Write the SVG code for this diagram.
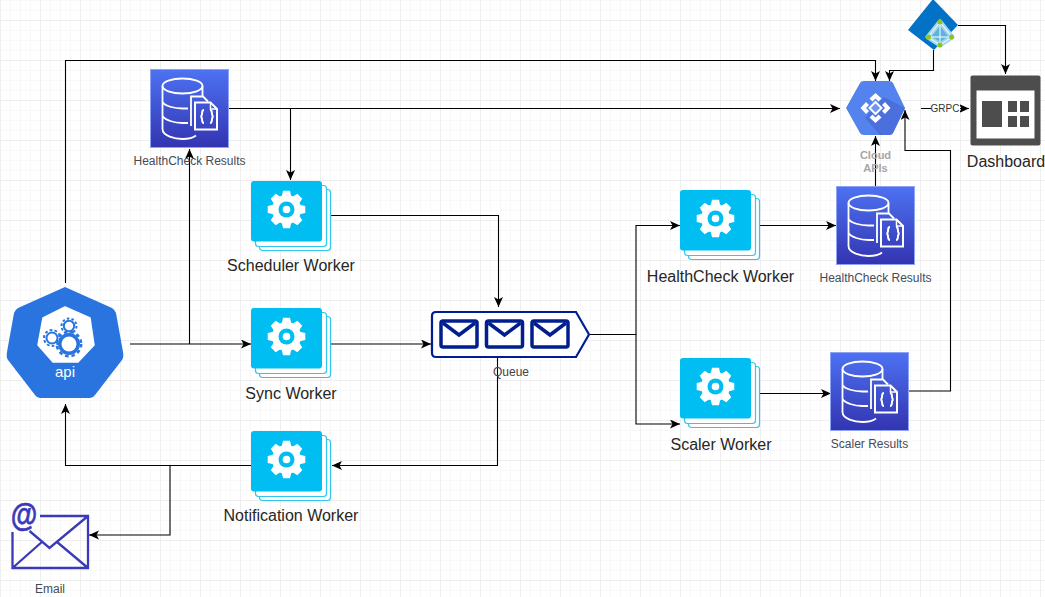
<svg xmlns="http://www.w3.org/2000/svg" width="1045" height="597" viewBox="0 0 1045 597">
<style>
.c{fill:none;stroke:#000;stroke-width:1.1}
.t{font-family:"Liberation Sans",Arial,sans-serif;text-anchor:middle}
.big{font-size:16px;fill:#262626}
.sm{font-size:12px;fill:#444b57}
.gb{fill:#fff;stroke:#2a74e0}
</style>
<defs>
<pattern id="g" width="40" height="40" patternUnits="userSpaceOnUse" patternTransform="translate(0 20)">
<path d="M0 10.500H40M0 20.500H40M0 30.500H40M10.500 0V40M20.500 0V40M30.500 0V40" stroke="#f8f8f8" stroke-width="1" fill="none"/>
<path d="M0 0.500H40M0.500 0V40" stroke="#eeeeee" stroke-width="1" fill="none"/>
</pattern>
<marker id="a" markerUnits="userSpaceOnUse" markerWidth="11" markerHeight="10" refX="10" refY="4.500" orient="auto"><path d="M0 0L10 4.500L0 9L2.500 4.500Z" fill="#000"/></marker>
<linearGradient id="db" x1="0" y1="0" x2="0" y2="1"><stop offset="0" stop-color="#4d72f3"/><stop offset="1" stop-color="#3334b0"/></linearGradient>
<symbol id="dbi" overflow="visible">
<rect x="0.500" y="0.500" width="78" height="78" fill="url(#db)" stroke="#8ea3f5"/>
<g fill="none" stroke="#fff" stroke-width="1.800">
<ellipse cx="32.500" cy="17" rx="20" ry="7.500"/>
<path d="M12.500 17V60C12.500 67 25 70 32.500 70C38 70 43 69 46 66.500M52.500 17V27M12.500 33C15 37 24 39.500 32.500 39.500H38M12.500 47C15 51 24 54 32.500 54H38"/>
<path d="M41 57V27.500H53L58 32.500"/>
<path d="M45 33.500V60.500H67V40L60.500 33.500Z" stroke-width="2"/>
<path d="M60.500 33.500V40H67" stroke-width="1.500"/>
<path d="M54 41C50.500 41 53.500 47 50.500 47.500C53.500 48 50.500 54 54 54M60 41C63.500 41 60.500 47 63.500 47.500C60.500 48 63.500 54 60 54" stroke-width="2"/>
</g>
</symbol>
<symbol id="wk" overflow="visible">
<rect x="8.500" y="8.500" width="71" height="61" rx="3" fill="#fff" stroke="#2fc7f0" stroke-width="1.200"/>
<rect x="4.500" y="4.500" width="71" height="61" rx="3" fill="#fff" stroke="#2fc7f0" stroke-width="1.200"/>
<rect x="0" y="0" width="71" height="60.500" rx="3" fill="#00bef2"/>
<g transform="translate(35.500 28.500)">
<g fill="#fff"><circle r="14.500"/>
<path d="M-5 -12L-3.500 -18.800H3.500L5 -12Z"/>
<path d="M-5 -12L-3.500 -18.800H3.500L5 -12Z" transform="rotate(45)"/>
<path d="M-5 -12L-3.500 -18.800H3.500L5 -12Z" transform="rotate(90)"/>
<path d="M-5 -12L-3.500 -18.800H3.500L5 -12Z" transform="rotate(135)"/>
<path d="M-5 -12L-3.500 -18.800H3.500L5 -12Z" transform="rotate(180)"/>
<path d="M-5 -12L-3.500 -18.800H3.500L5 -12Z" transform="rotate(225)"/>
<path d="M-5 -12L-3.500 -18.800H3.500L5 -12Z" transform="rotate(270)"/>
<path d="M-5 -12L-3.500 -18.800H3.500L5 -12Z" transform="rotate(315)"/>
</g>
<circle r="8" fill="#00bef2"/><circle r="3.800" fill="#fff"/>
</g>
</symbol>
<symbol id="env" overflow="visible">
<rect x="0" y="0" width="36" height="26" rx="2" fill="none" stroke="#001e8f" stroke-width="3.500"/>
<path d="M2 2L18 14L34 2" fill="none" stroke="#001e8f" stroke-width="3.500"/>
</symbol>
</defs>
<rect width="1045" height="597" fill="#fff"/>
<rect width="1045" height="597" fill="url(#g)"/>
<g id="connectors">
<path class="c" d="M65.500 283V60.500H875.500V81" marker-end="url(#a)"/>
<path class="c" d="M229 108.500H840" marker-end="url(#a)"/>
<path class="c" d="M290.500 108.500V180" marker-end="url(#a)"/>
<path class="c" d="M130 344H251" marker-end="url(#a)"/>
<path class="c" d="M189.500 344V149" marker-end="url(#a)"/>
<path class="c" d="M331 215.500H498.500V307" marker-end="url(#a)"/>
<path class="c" d="M331 344H431" marker-end="url(#a)"/>
<path class="c" d="M497.500 358V465.500H332" marker-end="url(#a)"/>
<path class="c" d="M251 465.500H65.500V404" marker-end="url(#a)"/>
<path class="c" d="M170 465.500V535H89" marker-end="url(#a)"/>
<path class="c" d="M590 334.500H636V225.500H680" marker-end="url(#a)"/>
<path class="c" d="M636 334.500V424H680" marker-end="url(#a)"/>
<path class="c" d="M759 225.500H836" marker-end="url(#a)"/>
<path class="c" d="M759 393.500H831" marker-end="url(#a)"/>
<path class="c" d="M875.500 186V136" marker-end="url(#a)"/>
<path class="c" d="M909 391H950.500V150.500H905V110" marker-end="url(#a)"/>
<path class="c" d="M933.500 50V70.500H889.500V81" marker-end="url(#a)"/>
<path class="c" d="M958 25.500H1005.500V74" marker-end="url(#a)"/>
<path class="c" d="M921 108.500H969" marker-end="url(#a)"/>
</g>
<g id="api">
<path d="M65 287L112 308Q115 310 116 313L123 352Q124 357 122 360L95 395Q93 398 90 398H40Q37 398 35 395L8 360Q6 357 7 352L14 313Q15 310 18 308Z" fill="#2a74e0"/>
<path d="M65 307L90 318L94 345L78 362H53L38 345L43 318Z" fill="#fff" stroke="#fff" stroke-width="1.500" stroke-linejoin="round"/>
<circle cx="69" cy="326" r="7.500" fill="none" stroke="#2a74e0" stroke-width="2" stroke-dasharray="2.500 2.200"/>
<circle class="gb" cx="69" cy="326" r="5.200" stroke-width="2"/>
<circle cx="52" cy="338" r="8" fill="none" stroke="#2a74e0" stroke-width="2" stroke-dasharray="2.800 2.200"/>
<circle class="gb" cx="52" cy="338" r="5.500" stroke-width="2"/>
<circle cx="69" cy="344" r="12.200" fill="none" stroke="#2a74e0" stroke-width="2.500" stroke-dasharray="3.500 3"/>
<circle cx="69" cy="344" r="11" fill="#2a74e0"/>
<circle cx="69" cy="344" r="7.500" fill="#fff"/>
<text class="t" x="65" y="377" font-size="15" fill="#fff">api</text>
</g>
<g id="hc-results-1"><use href="#dbi" x="150" y="69"/><text class="t sm" x="189.500" y="165">HealthCheck Results</text></g>
<g id="scheduler-worker"><use href="#wk" x="251" y="181"/><text class="t big" x="291" y="271">Scheduler Worker</text></g>
<g id="sync-worker"><use href="#wk" x="251" y="308"/><text class="t big" x="291" y="399">Sync Worker</text></g>
<g id="notification-worker"><use href="#wk" x="251" y="431"/><text class="t big" x="291" y="521">Notification Worker</text></g>
<g id="queue">
<path d="M436 312H576L589 334.500L576 357H436Q432 357 432 353V316Q432 312 436 312Z" fill="#fff" stroke="#001e8f" stroke-width="2.200"/>
<use href="#env" x="441" y="321"/><use href="#env" x="486.500" y="321"/><use href="#env" x="532" y="321"/>
<text class="t" x="511" y="376" font-size="12" fill="#444">Queue</text>
</g>
<g id="healthcheck-worker"><use href="#wk" x="680" y="190"/><text class="t big" x="720.500" y="282">HealthCheck Worker</text></g>
<g id="scaler-worker"><use href="#wk" x="680" y="358"/><text class="t big" x="721" y="450">Scaler Worker</text></g>
<g id="hc-results-2"><use href="#dbi" x="836" y="186"/><text class="t sm" x="875.500" y="282">HealthCheck Results</text></g>
<g id="scaler-results"><use href="#dbi" x="830" y="352"/><text class="t sm" x="869.500" y="448">Scaler Results</text></g>
<g id="cloud-apis">
<path d="M846 108L860 83Q861 81 864 81H889Q892 81 893 83L905 108L893 133Q892 135 889 135H864Q861 135 860 133Z" fill="#5583ee"/>
<path d="M884 97L905 108L893 133Q892 135 889 135H880L865 118Z" fill="#4b6fdc"/>
<g fill="#fff">
<path d="M875.500 93L881.500 98.500L878.500 101.500L875.500 98.500L872.500 101.500L869.500 98.500Z"/>
<path d="M875.500 123L881.500 117.500L878.500 114.500L875.500 117.500L872.500 114.500L869.500 117.500Z"/>
<path d="M860.500 108L866 102L869 105L866 108L869 111L866 114Z"/>
<path d="M890.500 108L885 102L882 105L885 108L882 111L885 114Z"/>
</g>
<path d="M875.500 102L881.500 108L875.500 114L869.500 108Z" fill="#6f97f2" stroke="#fff" stroke-width="2"/>
<text class="t" x="875.500" y="159" font-size="11" font-weight="bold" fill="#a6a6a6">Cloud</text>
<text class="t" x="875.500" y="172" font-size="11" font-weight="bold" fill="#a6a6a6">APIs</text>
</g>
<g id="grpc"><rect x="931" y="103" width="29" height="10" fill="#fff"/><text class="t" x="945" y="112" font-size="10" fill="#333">GRPC</text></g>
<g id="azure-ad">
<path d="M933 -1L958 25L934 50L908 30Z" fill="#0272c6"/>
<path d="M940 22L952 37L940 45L928 37Z" fill="#5cb3dd" stroke="#a3d7ee" stroke-width="5" stroke-linejoin="round"/>
<path d="M940 22V45M928 37H952M940 22L928 37L940 45L952 37Z" fill="none" stroke="#fff" stroke-width="1"/>
<circle cx="940" cy="22" r="2.500" fill="#8fc31f"/><circle cx="928.500" cy="37" r="2.500" fill="#8fc31f"/><circle cx="951.500" cy="37" r="2.500" fill="#8fc31f"/><circle cx="940" cy="45" r="2.500" fill="#8fc31f"/>
</g>
<g id="dashboard">
<rect x="970.500" y="75.500" width="70" height="70" rx="2" fill="#4d4d4d"/>
<rect x="976.500" y="90.500" width="58" height="48" fill="#fff"/>
<rect x="982" y="101" width="20" height="26" fill="#4d4d4d"/>
<rect x="1008" y="101" width="9" height="11" fill="#4d4d4d"/><rect x="1020" y="101" width="9" height="11" fill="#4d4d4d"/>
<rect x="1008" y="116" width="9" height="11" fill="#4d4d4d"/><rect x="1020" y="116" width="9" height="11" fill="#4d4d4d"/>
<text class="t big" x="1006" y="167">Dashboard</text>
</g>
<g id="email">
<path d="M12.500 532V568H88V516H40M12.500 568L43 541M88 516L49.500 548L29.500 531M88 568L57 542" fill="none" stroke="#3a39b7" stroke-width="2.300"/>
<text class="t" transform="translate(24 526) scale(.8 1)" font-size="34" font-weight="bold" fill="#3a39b7" stroke="#3a39b7" stroke-width="0.600">@</text>
<text class="t" x="50" y="593" font-size="12" fill="#444b57">Email</text>
</g>
</svg>
